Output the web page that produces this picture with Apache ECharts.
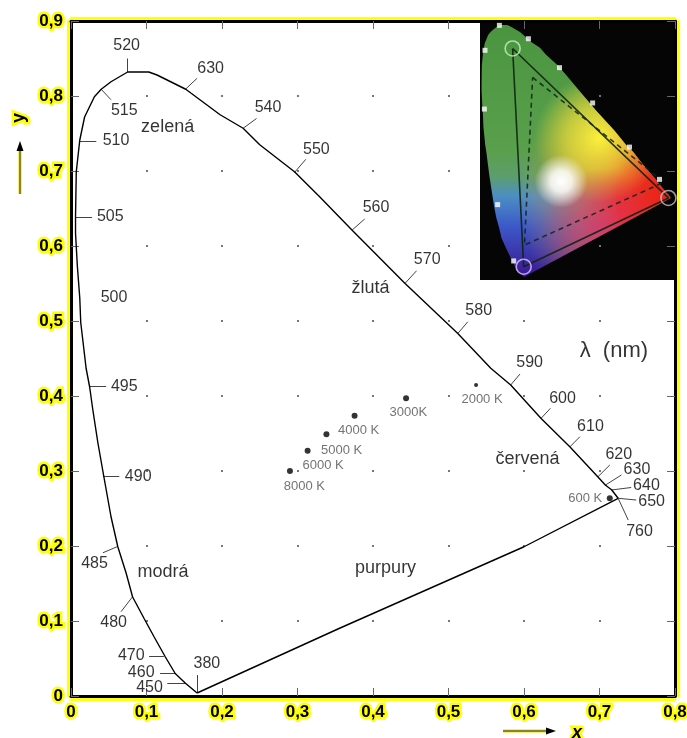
<!DOCTYPE html>
<html><head><meta charset="utf-8">
<script src="https://cdn.jsdelivr.net/npm/echarts@6/dist/echarts.min.js"></script>
<style>html,body{margin:0;padding:0;background:#fff;overflow:hidden}#c{width:687px;height:738px}</style>
</head><body><div id="c"></div>
<script>
// ---- tick labels ----
const xTickLabels = ['0','0,1','0,2','0,3','0,4','0,5','0,6','0,7','0,8'];
const yTickLabels = ['0','0,1','0,2','0,3','0,4','0,5','0,6','0,7','0,8','0,9'];

// ---- spectral locus (x, y), from 380 nm round to 760 nm ----
const locusX = [0.167,0.1516,0.138,0.125,0.110,0.097,0.0816,0.073,0.062,0.053,0.0436,0.0357,0.029,0.0247,0.020,0.0129,0.0116,0.0085,0.006,0.006,0.007,0.0116,0.018,0.031,0.040,0.053,0.075,0.103,0.114,0.152,0.1975,0.228,0.250,0.296,0.329,0.3724,0.4425,0.512,0.556,0.5824,0.6227,0.661,0.698,0.708,0.716,0.7247];
const locusY = [0.004,0.017,0.030,0.052,0.079,0.103,0.132,0.164,0.199,0.239,0.292,0.337,0.381,0.412,0.437,0.498,0.531,0.572,0.617,0.639,0.699,0.741,0.772,0.799,0.809,0.819,0.832,0.832,0.828,0.809,0.775,0.757,0.735,0.699,0.666,0.621,0.550,0.4836,0.437,0.4147,0.370,0.332,0.292,0.281,0.275,0.2636];
// purple line (760 nm back to 380 nm)
const purpleX = [0.7247,0.600,0.355,0.167];
const purpleY = [0.2636,0.199,0.090,0.004];

// ---- wavelength annotations ----
const wlLabels = ['380','450','460','470','480','485','490','495','500','505','510','515','520','630','540','550','560','570','580','590','600','610','620','630','640','650','760'];
const wlLabelX = [0.180,0.104,0.093,0.0798,0.0564,0.0312,0.089,0.0706,0.057,0.052,0.0597,0.0706,0.0737,0.185,0.261,0.325,0.404,0.4718,0.540,0.6074,0.651,0.688,0.7255,0.7496,0.7622,0.769,0.753];
const wlLabelY = [0.0436,0.0116,0.031,0.0533,0.098,0.177,0.2924,0.4124,0.531,0.639,0.740,0.781,0.867,0.837,0.7844,0.728,0.651,0.5813,0.5133,0.445,0.396,0.359,0.3213,0.3013,0.2804,0.259,0.219];
// leader lines: from point on curve (x1,y1) to (x2,y2); null = no leader
const wlTickX1 = [0.167,0.1516,0.138,0.123,0.0816,0.061,0.0423,0.0247,null,0.006,0.0116,0.040,0.075,0.1516,0.228,0.296,0.3724,0.4425,0.5125,0.5824,0.6227,0.661,0.698,0.708,0.716,0.7247,0.7247];
const wlTickY1 = [0.0044,0.017,0.031,0.0533,0.1324,0.199,0.2924,0.4124,null,0.639,0.740,0.809,0.832,0.809,0.757,0.698,0.6213,0.5503,0.4836,0.4147,0.3703,0.3324,0.2924,0.2813,0.2747,0.2636,0.2636];
const wlTickX2 = [0.167,0.1275,0.118,0.1034,0.0663,0.0423,0.064,0.0466,null,0.028,0.0335,0.053,0.075,0.167,0.2457,0.311,0.389,0.4577,0.5256,0.5947,0.635,0.674,0.7136,0.729,0.742,0.7487,0.738];
const wlTickY2 = [0.028,0.017,0.031,0.0533,0.1124,0.191,0.2924,0.4124,null,0.639,0.740,0.795,0.850,0.8236,0.770,0.7156,0.636,0.567,0.499,0.4293,0.3836,0.3457,0.308,0.2947,0.278,0.2613,0.2347];

// ---- colour region names ----
const regionNames = ['zelená','žlutá','červená','modrá','purpury'];
const regionX = [0.128,0.3966,0.6047,0.122,0.4167];
const regionY = [0.759,0.5436,0.3156,0.1657,0.170];
const unitText = ['λ  (nm)'];
const unitX = [0.719];
const unitY = [0.4604];

// ---- colour temperatures ----
const tempNames = ['2000 K','3000K','4000 K','5000 K','6000 K','8000 K','600 K'];
const tempX = [0.5365,0.4438,0.3756,0.3383,0.3134,0.290,0.7136];
const tempY = [0.4147,0.397,0.3737,0.349,0.327,0.300,0.2636];
const tempLabelX = [0.5444,0.4468,0.381,0.3585,0.334,0.309,0.681];
const tempLabelY = [0.396,0.378,0.3547,0.328,0.308,0.279,0.2636];

// ---- inset (gamut picture) ----
const insetDotX = [0.0737,0.184,0.019,0.302,0.0167,0.428,0.568,0.682,0.067,0.128];
const insetDotY = [0.831,0.787,0.749,0.692,0.556,0.576,0.431,0.325,0.242,0.057];
const triSolidX = [0.124,0.716,0.166,0.124];
const triSolidY = [0.755,0.264,0.038,0.755];
const triDashX = [0.200,0.700,0.169,0.200];
const triDashY = [0.660,0.316,0.109,0.660];
const primaryX = [0.124,0.716,0.166];
const primaryY = [0.755,0.264,0.038];

// ------------------------------------------------------------------
const FONT = "'Liberation Sans', Arial, sans-serif";
const YEL = '#ffff00';
const chart = echarts.init(document.getElementById('c'), null, {renderer:'canvas', width:687, height:738});

function axisLabelCfg(labels){
  return {show:true, color:'#000', fontFamily:FONT, fontWeight:'bold', fontSize:17, margin:8,
    textBorderColor:YEL, textBorderWidth:5,
    formatter: v => { const k = Math.round(v*10); return labels[k] !== undefined ? labels[k] : ''; }};
}
function xAx(pos, showLabel, offY){
  return {type:'value', gridIndex:0, position:pos, min:0, max:0.8, interval:0.1,
    axisLine:{show:true, onZero:false, lineStyle:{color:'#000', width:3, shadowColor:YEL, shadowOffsetY:offY, shadowBlur:1}},
    axisTick:{show:true, inside:true, length:8, lineStyle:{color:'#667', width:1}},
    axisLabel: showLabel ? axisLabelCfg(xTickLabels) : {show:false},
    splitLine:{show: pos==='bottom', lineStyle:{color:'#777', width:2, type:[2,73], dashOffset:1}}};
}
function yAx(pos, showLabel, offX){
  return {type:'value', gridIndex:0, position:pos, min:0, max:0.9, interval:0.1,
    axisLine:{show:true, onZero:false, lineStyle:{color:'#000', width:3, shadowColor:YEL, shadowOffsetX:offX, shadowBlur:1}},
    axisTick:{show:true, inside:true, length:8, lineStyle:{color:'#667', width:1}},
    axisLabel: showLabel ? axisLabelCfg(yTickLabels) : {show:false},
    splitLine:{show:false}};
}

const pairs = (xs, ys) => xs.map((x,i)=>[x, ys[i]]);
const tickData = [];
for (let i=0;i<wlLabels.length;i++){
  if (wlTickX1[i]===null) continue;
  tickData.push({coords:[[wlTickX1[i],wlTickY1[i]],[wlTickX2[i],wlTickY2[i]]]});
}
const G = echarts.graphic;

const option = {
  animation:false,
  backgroundColor:'#fff',
  grid:[
    {left:71, right:12, top:21, bottom:42, outerBoundsMode:'none', containLabel:false},
    {left:480, right:12, top:23, bottom:458, outerBoundsMode:'none', containLabel:false, show:true, backgroundColor:'#050505', borderWidth:0}
  ],
  xAxis:[ xAx('bottom', true, 3), xAx('top', false, -3),
    {type:'value', gridIndex:1, min:0, max:0.741, show:false, splitLine:{show:false}} ],
  yAxis:[ yAx('left', true, -3), yAx('right', false, 3),
    {type:'value', gridIndex:1, min:-0.0056, max:0.8387, show:false, splitLine:{show:false}} ],
  series:[
    // inset coloured horseshoe
    {type:'custom', xAxisIndex:2, yAxisIndex:2, data:[[0,0]], silent:true, z:1,
     renderItem:function(params, api){
       const pts = locusX.map((x,i)=>api.coord([x, locusY[i]]));
       const mk = fill => ({type:'polygon', shape:{points:pts}, style:{fill:fill}});
       return {type:'group', children:[
         mk(new G.LinearGradient(0,0,0,1,[
           {offset:0,color:'#4a9440'},{offset:0.5,color:'#5aa04c'},{offset:0.6,color:'#5c9e6c'},
           {offset:0.68,color:'#4c8ec4'},{offset:0.8,color:'#3c58c8'},{offset:1,color:'#3a1690'}])),
         mk(new G.RadialGradient(1.0,0.69,0.8,[
           {offset:0,color:'rgba(235,30,25,1)'},{offset:0.35,color:'rgba(240,50,30,0.95)'},
           {offset:0.62,color:'rgba(245,120,40,0.55)'},{offset:1,color:'rgba(245,160,40,0)'}])),
         mk(new G.RadialGradient(0.62,0.45,0.34,[
           {offset:0,color:'rgba(255,245,60,0.95)'},{offset:0.5,color:'rgba(240,235,60,0.6)'},
           {offset:1,color:'rgba(230,230,60,0)'}])),
         mk(new G.RadialGradient(0.63,0.81,0.32,[
           {offset:0,color:'rgba(220,40,130,0.55)'},{offset:1,color:'rgba(220,40,130,0)'}])),
         mk(new G.RadialGradient(0.42,0.62,0.14,[
           {offset:0,color:'rgba(255,255,255,1)'},{offset:0.4,color:'rgba(255,255,255,0.85)'},
           {offset:1,color:'rgba(255,255,255,0)'}]))
       ]};
     }},
    {type:'line', xAxisIndex:2, yAxisIndex:2, data:pairs(triSolidX,triSolidY), symbol:'none', silent:true, z:3,
     lineStyle:{color:'rgba(15,35,15,0.9)', width:1.6}},
    {type:'line', xAxisIndex:2, yAxisIndex:2, data:pairs(triDashX,triDashY), symbol:'none', silent:true, z:3,
     lineStyle:{color:'rgba(15,35,25,0.85)', width:1.6, type:[5,4]}},
    {type:'scatter', xAxisIndex:2, yAxisIndex:2, data:pairs(insetDotX,insetDotY), symbol:'rect', symbolSize:5, silent:true, z:4,
     itemStyle:{color:'#ffffff'}},
    {type:'scatter', xAxisIndex:2, yAxisIndex:2, symbol:'circle', symbolSize:15, silent:true, z:4,
     data:[
       {value:[primaryX[0],primaryY[0]], itemStyle:{borderColor:'#c4f0c0'}},
       {value:[primaryX[1],primaryY[1]], itemStyle:{borderColor:'#c8c0c0'}},
       {value:[primaryX[2],primaryY[2]], itemStyle:{borderColor:'#dcc4ff'}}],
     itemStyle:{color:'rgba(0,0,0,0)', borderWidth:1.6}},

    // main chart
    {type:'line', xAxisIndex:0, yAxisIndex:0, data:pairs(locusX,locusY), symbol:'none', silent:true, z:3,
     lineStyle:{color:'#000', width:1.4}},
    {type:'line', xAxisIndex:0, yAxisIndex:0, data:pairs(purpleX,purpleY), symbol:'none', silent:true, z:3,
     lineStyle:{color:'#000', width:1.4}},
    {type:'lines', coordinateSystem:'cartesian2d', xAxisIndex:0, yAxisIndex:0, data:tickData, silent:true, z:3,
     lineStyle:{color:'#444', width:1, opacity:1}},
    {type:'scatter', xAxisIndex:0, yAxisIndex:0, symbolSize:1, silent:true, z:5,
     data: wlLabels.map((t,i)=>({name:t, value:[wlLabelX[i], wlLabelY[i]]})),
     itemStyle:{color:'rgba(0,0,0,0)'},
     label:{show:true, position:'inside', formatter:'{b}', color:'#000', fontSize:16, fontFamily:FONT}},
    {type:'scatter', xAxisIndex:0, yAxisIndex:0, symbolSize:1, silent:true, z:5,
     data: regionNames.map((t,i)=>({name:t, value:[regionX[i], regionY[i]]})),
     itemStyle:{color:'rgba(0,0,0,0)'},
     label:{show:true, position:'inside', formatter:'{b}', color:'#000', fontSize:18, fontFamily:FONT}},
    {type:'scatter', xAxisIndex:0, yAxisIndex:0, symbolSize:1, silent:true, z:5,
     data: unitText.map((t,i)=>({name:t, value:[unitX[i], unitY[i]]})),
     itemStyle:{color:'rgba(0,0,0,0)'},
     label:{show:true, position:'inside', formatter:'{b}', color:'#000', fontSize:22, fontFamily:FONT}},
    {type:'scatter', xAxisIndex:0, yAxisIndex:0, silent:true, z:5,
     symbolSize:(v, p) => p.dataIndex === 0 ? 4 : 6,
     data: pairs(tempX,tempY), itemStyle:{color:'#000'}},
    {type:'scatter', xAxisIndex:0, yAxisIndex:0, symbolSize:1, silent:true, z:5,
     data: tempNames.map((t,i)=>({name:t, value:[tempLabelX[i], tempLabelY[i]]})),
     itemStyle:{color:'rgba(0,0,0,0)'},
     label:{show:true, position:'inside', formatter:'{b}', color:'#505050', fontSize:13, fontFamily:FONT}}
  ],
  graphic:[
    {type:'text', x:19, y:118, rotation:Math.PI/2, silent:true,
     style:{text:'y', fontSize:18, fontFamily:FONT, fontWeight:'bold', fill:'#000', stroke:YEL, lineWidth:5, align:'center', verticalAlign:'middle'}},
    {type:'line', silent:true, shape:{x1:20,y1:194,x2:20,y2:150}, style:{stroke:'#e6d800', lineWidth:3}},
    {type:'line', silent:true, shape:{x1:20,y1:194,x2:20,y2:150}, style:{stroke:'#333', lineWidth:1}},
    {type:'polygon', silent:true, shape:{points:[[20,141],[16.5,151],[23.5,151]]}, style:{fill:'#000'}},
    {type:'line', silent:true, shape:{x1:503,y1:731,x2:547,y2:731}, style:{stroke:'#e6d800', lineWidth:3}},
    {type:'line', silent:true, shape:{x1:503,y1:731,x2:547,y2:731}, style:{stroke:'#333', lineWidth:1}},
    {type:'polygon', silent:true, shape:{points:[[556,731],[546,727.5],[546,734.5]]}, style:{fill:'#000'}},
    {type:'text', x:577, y:733, silent:true,
     style:{text:'x', fontSize:18, fontFamily:FONT, fontWeight:'bold', fontStyle:'italic', fill:'#000', stroke:YEL, lineWidth:5, align:'center', verticalAlign:'middle'}}
  ]
};
chart.setOption(option);
</script>
</body></html>
